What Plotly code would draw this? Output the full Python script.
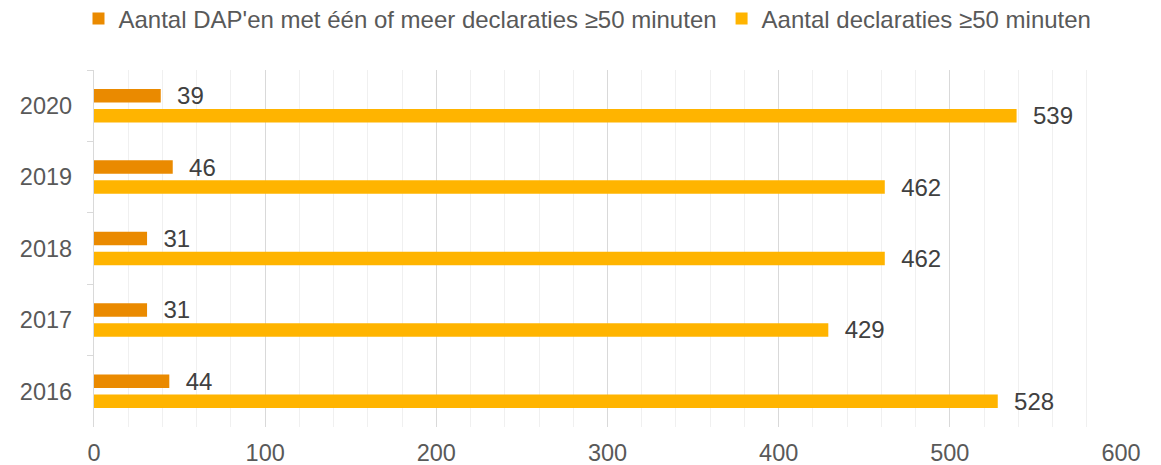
import plotly.graph_objects as go

years = ["2020", "2019", "2018", "2017", "2016"]
dap_counts = [39, 46, 31, 31, 44]
decl_counts = [539, 462, 462, 429, 528]
series_names = ["Aantal DAP'en met één of meer declaraties ≥50 minuten",
                "Aantal declaraties ≥50 minuten"]
x_ticks = [0, 100, 200, 300, 400, 500, 600]

FONT = "Liberation Sans, Arial, sans-serif"
TXT = "#595959"
pad = "\u00a0\u00a0"

fig = go.Figure()
fig.add_trace(go.Bar(
    y=years, x=dap_counts, orientation="h", name=series_names[0],
    marker=dict(color="#EA8A00", line=dict(width=0)),
    text=[pad + str(v) for v in dap_counts], textposition="outside",
    textfont=dict(size=24, color="#404040", family=FONT),
    constraintext="none", cliponaxis=False,
))
fig.add_trace(go.Bar(
    y=years, x=decl_counts, orientation="h", name=series_names[1],
    marker=dict(color="#FFB400", line=dict(width=0)),
    text=[pad + str(v) for v in decl_counts], textposition="outside",
    textfont=dict(size=24, color="#404040", family=FONT),
    constraintext="none", cliponaxis=False,
))

fig.update_layout(
    width=1153, height=457,
    margin=dict(l=86, r=40, t=62, b=38, autoexpand=False),
    paper_bgcolor="white", plot_bgcolor="white",
    font=dict(family=FONT, size=23.5, color=TXT),
    barmode="group", bargap=0.44, bargroupgap=0.325,
    showlegend=True,
    legend=dict(orientation="h", x=0.5026, xanchor="center", xref="container",
                y=1 - 11 / 457, yanchor="middle", yref="container",
                font=dict(size=24, color=TXT), itemwidth=30, traceorder="normal",
                tracegroupgap=0),
    xaxis=dict(range=[0, 600], tickvals=x_ticks, showgrid=True, gridcolor="#D9D9D9",
               gridwidth=1.3, zeroline=False, showline=False, ticks="",
               automargin=False, ticklabelstandoff=9,
               tickfont=dict(size=23.5, color=TXT),
               minor=dict(dtick=20, showgrid=True, gridcolor="#F0F0F0", gridwidth=1.3)),
    yaxis=dict(type="category", autorange="reversed", showgrid=False, zeroline=False,
               showline=True, linecolor="#D9D9D9", linewidth=1.3, automargin=False,
               ticks="outside", tickson="boundaries", ticklen=6, tickcolor="#D9D9D9",
               tickwidth=1.3, ticklabelstandoff=16,
               tickfont=dict(size=23.5, color=TXT)),
)

fig.write_html("out.html")
